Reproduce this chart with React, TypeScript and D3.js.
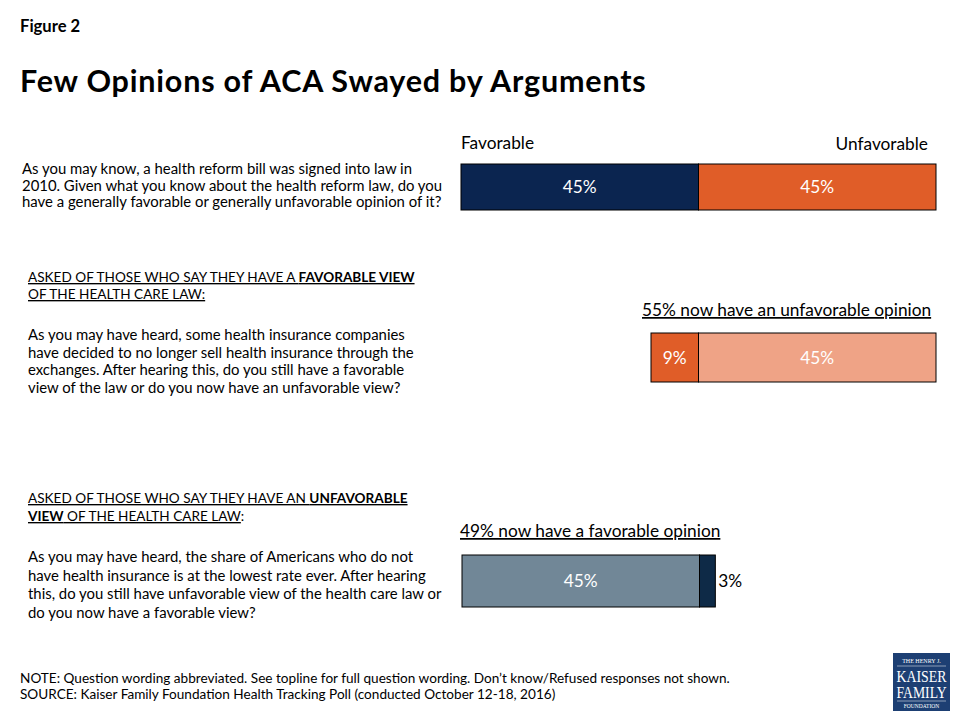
import React from "react";
import * as d3 from "d3";

const FONT = "Lato, 'Open Sans', sans-serif";

const q1Lines = [
  "As you may know, a health reform bill was signed into law in",
  "2010. Given what you know about the health reform law, do you",
  "have a generally favorable or generally unfavorable opinion of it?",
];
const q2Lines = [
  "As you may have heard, some health insurance companies",
  "have decided to no longer sell health insurance through the",
  "exchanges. After hearing this, do you still have a favorable",
  "view of the law or do you now have an unfavorable view?",
];
const q3Lines = [
  "As you may have heard, the share of Americans who do not",
  "have health insurance is at the lowest rate ever. After hearing",
  "this, do you still have unfavorable view of the health care law or",
  "do you now have a favorable view?",
];

const bar1Categories = ["Favorable", "Unfavorable"];
const bar1Values = [45, 45];
const bar2Values = [9, 45];
const bar3Values = [45, 3];
const bar2Title = "55% now have an unfavorable opinion";
const bar3Title = "49% now have a favorable opinion";

const C_NAVY = "#0b2550";
const C_ORANGE = "#e05d28";
const C_SALMON = "#efa386";
const C_GRAY = "#718797";
const C_DARK = "#0e2a47";

const x = d3.scaleLinear().domain([0, 90]).range([0, 475]);

function stack(values: number[]) {
  let acc = 0;
  return values.map((v) => {
    const s = { v, x0: acc, x1: acc + v };
    acc += v;
    return s;
  });
}

export default function App() {
  const s1 = stack(bar1Values);
  const s2 = stack(bar2Values);
  const s3 = stack(bar3Values);
  const b1x = 461;
  const b2right = 936;
  const b2x = b2right - x(d3.sum(bar2Values));
  const b3x = 462;
  const bodySize = 14.9;
  const capSize = 13.6;
  const labelSize = 17.3;
  return (
    <svg
      width={960}
      height={720}
      style={{ position: "absolute", left: 0, top: 0, background: "#fff" }}
      fontFamily={FONT}
    >
      <rect width={960} height={720} fill="#fff" />
      <text x={20} y={32} fontSize={16.6} fontWeight="bold" fill="#000">Figure 2</text>
      <text x={20} y={92} fontSize={30.5} fontWeight="bold" fill="#000" letterSpacing={0.8}>
        Few Opinions of ACA Swayed by Arguments
      </text>

      {/* Question 1 */}
      {q1Lines.map((l, i) => (
        <text key={i} x={22} y={174 + i * 16.7} fontSize={bodySize} fill="#000">{l}</text>
      ))}

      {/* Question 2 */}
      <text x={28} y={282} fontSize={capSize} fill="#000" style={{ textDecoration: "underline" }}>
        ASKED OF THOSE WHO SAY THEY HAVE A <tspan fontWeight="bold">FAVORABLE VIEW</tspan>
      </text>
      <text x={28} y={299} fontSize={capSize} fill="#000" style={{ textDecoration: "underline" }}>
        OF THE HEALTH CARE LAW:
      </text>
      {q2Lines.map((l, i) => (
        <text key={i} x={28} y={340 + i * 17.6} fontSize={bodySize} fill="#000">{l}</text>
      ))}

      {/* Question 3 */}
      <text x={28} y={503} fontSize={capSize} fill="#000" style={{ textDecoration: "underline" }}>
        ASKED OF THOSE WHO SAY THEY HAVE AN <tspan fontWeight="bold">UNFAVORABLE</tspan>
      </text>
      <text x={28} y={521} fontSize={capSize} fill="#000">
        <tspan style={{ textDecoration: "underline" }}>
          <tspan fontWeight="bold">VIEW</tspan> OF THE HEALTH CARE LAW
        </tspan>:
      </text>
      {q3Lines.map((l, i) => (
        <text key={i} x={28} y={562 + i * 18.7} fontSize={bodySize} fill="#000">{l}</text>
      ))}

      {/* Bar 1 */}
      <text x={461} y={149} fontSize={labelSize} fill="#000">{bar1Categories[0]}</text>
      <text x={928} y={150} fontSize={labelSize} fill="#000" textAnchor="end">{bar1Categories[1]}</text>
      {s1.map((d, i) => (
        <g key={i}>
          <rect x={b1x + x(d.x0)} y={164} width={x(d.v)} height={46}
            fill={i === 0 ? C_NAVY : C_ORANGE} stroke="#000" strokeWidth={1} />
          <text x={b1x + x(d.x0 + d.v / 2)} y={187} dy="0.35em" fontSize={labelSize}
            fill="#fff" textAnchor="middle">{d.v}%</text>
        </g>
      ))}

      {/* Bar 2 */}
      <text x={642} y={316} fontSize={labelSize} fill="#000" style={{ textDecoration: "underline" }}>{bar2Title}</text>
      {s2.map((d, i) => (
        <g key={i}>
          <rect x={b2x + x(d.x0)} y={333} width={x(d.v)} height={49}
            fill={i === 0 ? C_ORANGE : C_SALMON} stroke="#000" strokeWidth={1} />
          <text x={b2x + x(d.x0 + d.v / 2)} y={357.5} dy="0.35em" fontSize={labelSize}
            fill="#fff" textAnchor="middle">{d.v}%</text>
        </g>
      ))}

      {/* Bar 3 */}
      <text x={460} y={537} fontSize={labelSize} fill="#000" style={{ textDecoration: "underline" }}>{bar3Title}</text>
      {s3.map((d, i) => (
        <g key={i}>
          <rect x={b3x + x(d.x0)} y={555} width={x(d.v)} height={52}
            fill={i === 0 ? C_GRAY : C_DARK} stroke="#000" strokeWidth={1} />
          {i === 0 ? (
            <text x={b3x + x(d.x0 + d.v / 2)} y={581} dy="0.35em" fontSize={labelSize}
              fill="#fff" textAnchor="middle">{d.v}%</text>
          ) : (
            <text x={b3x + x(d.x1) + 3} y={581} dy="0.35em" fontSize={labelSize}
              fill="#000">{d.v}%</text>
          )}
        </g>
      ))}

      {/* Footnote */}
      <text x={20} y={683} fontSize={13.6} fill="#000">
        NOTE: Question wording abbreviated. See topline for full question wording. Don’t know/Refused responses not shown.
      </text>
      <text x={20} y={699} fontSize={13.6} fill="#000">
        SOURCE: Kaiser Family Foundation Health Tracking Poll (conducted October 12-18, 2016)
      </text>

      {/* Logo */}
      <g fontFamily="'Liberation Serif', 'DejaVu Serif', serif" fill="#fff">
        <rect x={893} y={653} width={57} height={58} fill="#1d3f73" />
        <text x={921.5} y={663} fontSize={6} textAnchor="middle">THE HENRY J.</text>
        <line x1={897} x2={946} y1={666} y2={666} stroke="#fff" strokeWidth={0.5} />
        <text x={921.5} y={682} fontSize={16} textAnchor="middle" textLength={50} lengthAdjust="spacingAndGlyphs">KAISER</text>
        <text x={921.5} y={698} fontSize={16} textAnchor="middle" textLength={50} lengthAdjust="spacingAndGlyphs">FAMILY</text>
        <line x1={897} x2={946} y1={701} y2={701} stroke="#fff" strokeWidth={0.5} />
        <text x={921.5} y={708} fontSize={5.5} textAnchor="middle">FOUNDATION</text>
      </g>
    </svg>
  );
}
